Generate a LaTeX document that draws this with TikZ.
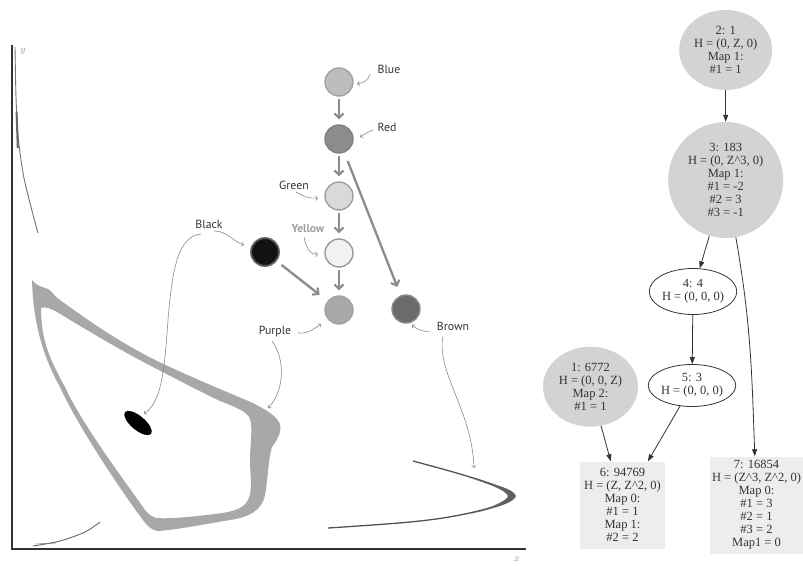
\documentclass[tikz,border=0pt]{standalone}
\usepackage{fontspec}
\setmainfont{Liberation Serif}
\newfontfamily\lblfont{PT Sans}
\usetikzlibrary{arrows.meta,shapes.geometric,calc}
\definecolor{axisc}{HTML}{333333}
\definecolor{bandc}{HTML}{A8A8A8}
\definecolor{arrc}{HTML}{8C8C8C}
\definecolor{thinc}{HTML}{8A8A8A}
\definecolor{gtc}{HTML}{333333}
\definecolor{gfill}{HTML}{D3D3D3}
\definecolor{bfill}{HTML}{EDEDED}
\begin{document}
\begin{tikzpicture}[x=1pt,y=-1pt,
  colcirc/.style={circle,minimum size=28,inner sep=0,line width=1.4},
  thickarr/.style={draw=arrc,line width=2.3,-{Straight Barb[length=4.5pt,width=9pt,line width=2.1pt]}},
  lblarr/.style={draw=thinc,line width=0.6,-{Straight Barb[length=2.2pt,width=4.5pt,line width=0.6pt]}},
  lbl/.style={font=\lblfont\fontsize{11.8}{13}\selectfont,text=axisc,inner sep=0},
  gtext/.style={font=\fontsize{12.5}{13}\selectfont,align=center,text=gtc,inner sep=0},
  gell/.style={gtext,ellipse,fill=gfill},
  gwell/.style={gtext,ellipse,draw=gtc,line width=0.8,fill=white},
  gbox/.style={gtext,rectangle,fill=bfill},
  gedge/.style={draw=gtc,line width=0.8,-{Triangle[length=7pt,width=5pt]}}]
\useasboundingbox (0,0) rectangle (803,565);
\fill[white] (0,0) rectangle (803,565);

% ---------------- left plot ----------------
% pear-shaped band
\fill[bandc,even odd rule]
  (32,280) .. controls (36,286) and (43,287) .. (48,289)
  .. controls (52,291) and (55,297) .. (60,300)
  .. controls (90,322) and (120,342) .. (153,359)
  .. controls (190,377) and (230,393) .. (255,404)
  .. controls (265,410) and (275,414) .. (280,424)
  .. controls (282,432) and (277,440) .. (272,447)
  .. controls (268,460) and (268,480) .. (265,495)
  .. controls (262,510) and (250,517) .. (230,520)
  .. controls (200,525) and (175,530) .. (158,531)
  .. controls (150,530) and (145,523) .. (140,516)
  .. controls (110,475) and (75,420) .. (60,387)
  .. controls (42,355) and (33,320) .. (32,280) -- cycle
  (41,308) .. controls (45,306) and (52,309) .. (57,312)
  .. controls (90,332) and (120,350) .. (153,367)
  .. controls (180,381) and (205,394) .. (220,401)
  .. controls (235,407) and (247,411) .. (250,419)
  .. controls (253,430) and (250,445) .. (250,460)
  .. controls (250,475) and (253,490) .. (248,500)
  .. controls (243,510) and (230,512) .. (215,514)
  .. controls (190,517) and (170,519) .. (156,518)
  .. controls (150,516) and (146,512) .. (143,507)
  .. controls (115,468) and (80,420) .. (65,387)
  .. controls (50,360) and (41,340) .. (41,308) -- cycle;
% black blob
\fill[black,rotate around={-40:(138,423)}] (138,423) ellipse [x radius=17, y radius=7];
% brown curve
\draw[line width=1.3,color=black!68] plot[smooth,tension=0.6] coordinates {(413,461) (460,474) (497,486) (512,495) (502,504) (460,515) (410,522) (328,528)};
\fill[black!62] (470,478) .. controls (495,485) and (513,488) .. (516,496) .. controls (514,503) and (495,508) .. (470,514) .. controls (492,507) and (507,501) .. (508,496) .. controls (505,490) and (492,485) .. (470,478) -- cycle;
% curve near y axis
\draw[line width=0.9,color=black!55] plot[smooth] coordinates {(15,47) (16,97) (18,135) (23,173) (30,203) (38,233)};
\draw[line width=2,color=black!60] (16.6,112) -- (17.8,148);
% bottom-left curve
\draw[line width=0.9,color=black!60] plot[smooth] coordinates {(33,546) (60,541) (85,532) (100,522)};
\draw[line width=0.6,color=black!50] (36,544) -- (56,543);
% axes
\draw[axisc,line width=2.2] (12,45) -- (12,549) -- (526,549);
\node[text=black!45,font=\fontsize{10}{12}\selectfont] (ylab) at (23,51) {$y$};
\node[text=black!45,font=\fontsize{10}{12}\selectfont] (xlab) at (517,559) {$x$};

% coloured circles
\node[colcirc,fill=black!26,draw=black!36] (blue) at (339,82) {};
\node[colcirc,fill=black!45,draw=black!50] (red) at (339,139) {};
\node[colcirc,fill=black!15,draw=black!38] (green) at (339,196) {};
\node[colcirc,fill=black!5,draw=black!40] (yellow) at (339,253) {};
\node[colcirc,fill=black!34,draw=black!36] (purple) at (339,310) {};
\node[colcirc,fill=black!93,draw=black!62,line width=1.8] (blackc) at (265,252) {};
\node[colcirc,fill=black!58,draw=black!45] (brown) at (406,309) {};

% thick arrows
\draw[thickarr,shorten <=2.5pt,shorten >=5pt] (blue) -- (red);
\draw[thickarr,shorten <=2.5pt,shorten >=5pt] (red) -- (green);
\draw[thickarr,shorten <=2.5pt,shorten >=5pt] (green) -- (yellow);
\draw[thickarr,shorten <=2.5pt,shorten >=5pt] (yellow) -- (purple);
\draw[thickarr,shorten <=6pt,shorten >=10pt] (blackc) -- (purple);
\draw[thickarr,shorten <=9pt,shorten >=9pt] (red) -- (brown);

% labels
\node[lbl] (lblue) at (389,69) {Blue};
\node[lbl] (lred) at (387,127) {Red};
\node[lbl] (lgreen) at (294,185) {Green};
\node[lbl,text=black!38,font=\lblfont\bfseries\fontsize{11.5}{13}\selectfont] (lyellow) at (308,229) {Yellow};
\node[lbl] (lblack) at (209,224) {Black};
\node[lbl] (lpurple) at (275,331) {Purple};
\node[lbl] (lbrown) at (453,326) {Brown};

% short label arrows
\coordinate (cb1) at (370,74);   \coordinate (cb2) at (357,84);
\coordinate (cr1) at (373,130);  \coordinate (cr2) at (360,137);
\coordinate (cg1) at (296,192);  \coordinate (cg2) at (318,198);
\coordinate (cy1) at (304,237);  \coordinate (cy2) at (318,254);
\coordinate (ck1) at (214,231);  \coordinate (ck2) at (244,245);
\coordinate (cp1) at (298,333);  \coordinate (cp2) at (321,324);
\coordinate (cn1) at (430,331);  \coordinate (cn2) at (412,325);
\draw[lblarr] (cb1) to[out=-100,in=10] (cb2);
\draw[lblarr] (cr1) to[out=-160,in=30] (cr2);
\draw[lblarr] (cg1) to[out=-30,in=185] (cg2);
\draw[lblarr] (cy1) to[out=-80,in=190] (cy2);
\draw[lblarr] (ck1) to[out=0,in=160] (ck2);
\draw[lblarr] (cp1) to[out=-5,in=215] (cp2);
\draw[lblarr] (cn1) to[out=190,in=-40] (cn2);

% long label arrows
\coordinate (lk1) at (201,234); \coordinate (lk2) at (144,414);
\coordinate (lp1) at (272,341); \coordinate (lp2) at (268,408);
\coordinate (ln1) at (443,336); \coordinate (ln2) at (474,468);
\draw[lblarr] (lk1) .. controls (178,236) and (172,270) .. (168,320) .. controls (164,380) and (160,402) .. (lk2);
\draw[lblarr] (lp1) .. controls (286,360) and (284,392) .. (lp2);
\draw[lblarr] (ln1) .. controls (436,372) and (472,410) .. (ln2);

% ---------------- right graph ----------------
\node[gell,minimum width=93,minimum height=80] (n2) at (725.7,50) {2: 1\\H = (0, Z, 0)\\Map 1:\\\#1 = 1};
\node[gell,minimum width=115,minimum height=116] (n3) at (725.7,180) {3: 183\\H = (0, Z\textasciicircum3, 0)\\Map 1:\\\#1 = -2\\\#2 = 3\\\#3 = -1};
\node[gwell,minimum width=81,minimum height=46] (n4) at (693,291.5) {4: 4\\H = (0, 0, 0)};
\node[gwell,minimum width=81,minimum height=42] (n5) at (692,385.5) {5: 3\\H = (0, 0, 0)};
\node[gell,minimum width=95,minimum height=80] (n1) at (590.5,386.7) {1: 6772\\H = (0, 0, Z)\\Map 2:\\\#1 = 1};
\node[gbox,minimum width=85,minimum height=87] (n6) at (622.5,505) {6: 94769\\H = (Z, Z\textasciicircum2, 0)\\Map 0:\\\#1 = 1\\Map 1:\\\#2 = 2};
\node[gbox,minimum width=93,minimum height=97] (n7) at (756.5,505) {7: 16854\\H = (Z\textasciicircum3, Z\textasciicircum2, 0)\\Map 0:\\\#1 = 3\\\#2 = 1\\\#3 = 2\\Map1 = 0};

\draw[gedge] (n2) -- (n3);
\draw[gedge] (n3) -- (n4);
\draw[gedge] (n3) to[out=-80,in=92] (n7);
\draw[gedge] (n4) -- (n5);
\draw[gedge] (n1) -- (n6);
\draw[gedge] (n5) -- (n6);
\end{tikzpicture}
\end{document}
